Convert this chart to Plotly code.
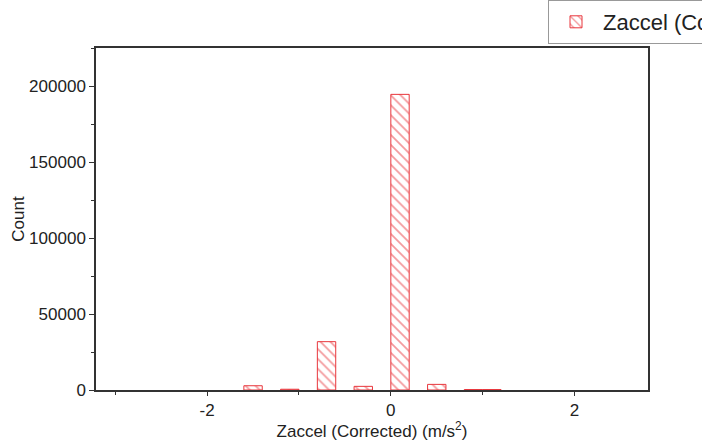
import plotly.graph_objects as go

bin_centers = [-1.5, -1.1, -0.7, -0.3, 0.1, 0.5, 0.9, 1.1]
counts = [2800, 500, 31800, 2400, 194500, 3700, 300, 300]
bin_width = 0.2

x_ticks = [-2, 0, 2]
y_ticks = [0, 50000, 100000, 150000, 200000]

red = "#e8363c"

fig = go.Figure()
fig.add_trace(go.Bar(
    x=bin_centers, y=counts, width=bin_width,
    name="Zaccel (Corrected)",
    marker=dict(
        color="white",
        line=dict(color=red, width=1),
        pattern=dict(shape="\\", fgcolor=red, bgcolor="white", size=7, solidity=0.25),
    ),
    showlegend=True,
))

font = "Liberation Sans, Arial, sans-serif"
fig.update_layout(
    width=702, height=441,
    margin=dict(l=96, r=54, t=48, b=51, autoexpand=False),
    paper_bgcolor="white", plot_bgcolor="white",
    font=dict(family=font, color="#222", size=17),
    showlegend=True,
    legend=dict(
        xref="container", yref="container",
        x=548/702, y=1 - 0/441, xanchor="left", yanchor="top",
        bordercolor="#999", borderwidth=1,
        font=dict(size=22, family=font, color="#222"),
        itemwidth=44,
        bgcolor="white",
        tracegroupgap=0,
    ),
    xaxis=dict(
        range=[-3.21, 2.80],
        tickvals=x_ticks,
        ticktext=["-2", "0", "2"],
        ticks="outside", ticklen=4, tickwidth=1, tickcolor="#333",
        minor=dict(dtick=1, tick0=0, ticks="outside", ticklen=3, tickcolor="#333"),
        showline=True, linecolor="#333", linewidth=1.5, mirror=True,
        showgrid=False, zeroline=False,
        title=dict(text="Zaccel (Corrected) (m/s<sup>2</sup>)", font=dict(size=17), standoff=4),
        tickfont=dict(size=17),
    ),
    yaxis=dict(
        range=[0, 225000],
        tickvals=y_ticks,
        tickformat="d",
        ticks="outside", ticklen=5, tickwidth=1, tickcolor="#333",
        minor=dict(dtick=25000, tick0=0, ticks="outside", ticklen=3, tickcolor="#333"),
        showline=True, linecolor="#333", linewidth=1.5, mirror=True,
        showgrid=False, zeroline=False,
        title=dict(text="Count", font=dict(size=17), standoff=0),
        tickfont=dict(size=17),
    ),
)

fig.write_html("out.html", config={"displayModeBar": False},
               post_script="document.body.style.margin='0';")
